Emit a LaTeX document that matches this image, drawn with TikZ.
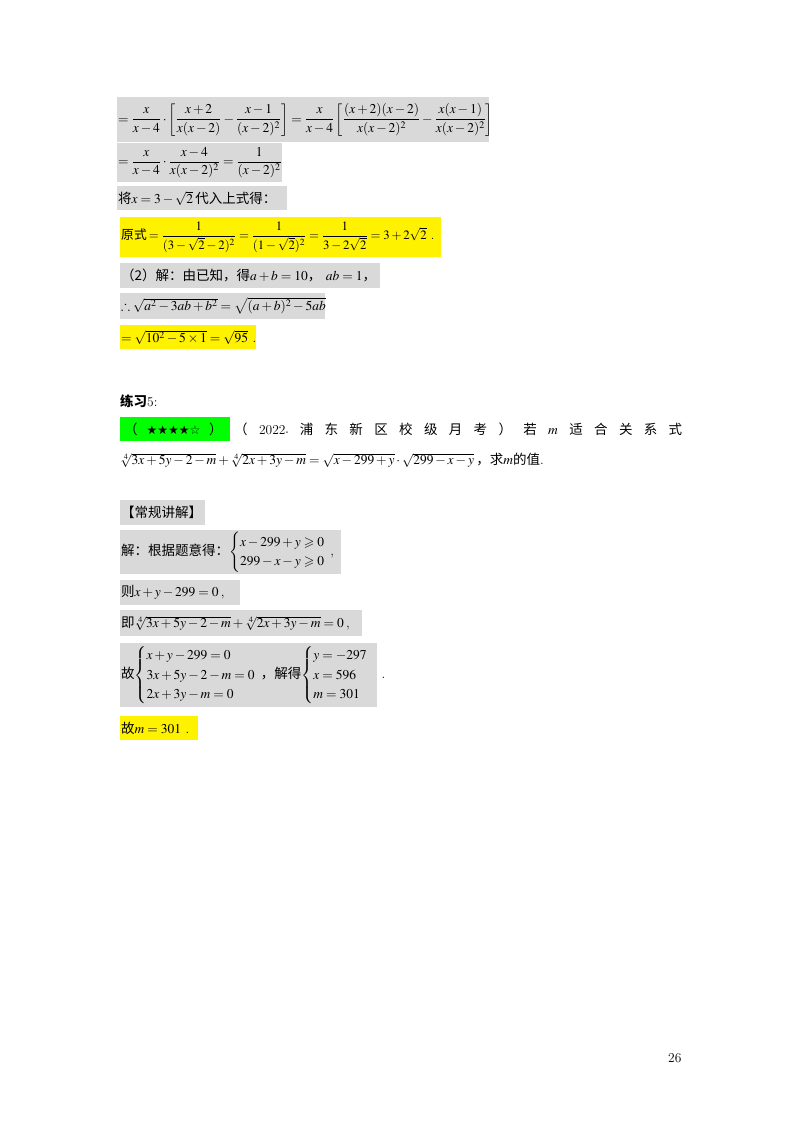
\documentclass[tikz,border=0pt]{standalone}
\usepackage{amsmath,amssymb}
\usepackage{fontspec}
\setmainfont{Liberation Serif}
\newfontfamily\cjk{Noto Sans CJK SC}
\newfontfamily\sym{DejaVu Sans}
\usepackage{mathptmx}
\begin{document}
\begin{tikzpicture}[x=1pt,y=-1pt,
  gbox/.style={fill=gray!30,draw=none,anchor=north west,inner sep=0pt},
  ybox/.style={fill=yellow,draw=none,anchor=north west,inner sep=0pt},
  grbox/.style={fill=green,draw=none,anchor=north west,inner sep=0pt},
  txt/.style={anchor=west,inner sep=0pt,font=\fontsize{13.5}{15}\selectfont}]
\useasboundingbox (0,0) rectangle (800,1132);
% boxes
\node[gbox,minimum width=372,minimum height=45] (b1) at (117,97) {};
\node[gbox,minimum width=165,minimum height=39] (b2) at (117,143) {};
\node[gbox,minimum width=170,minimum height=24] (b3) at (117,186) {};
\node[ybox,minimum width=321,minimum height=40] (b4) at (120,217) {};
\node[gbox,minimum width=260,minimum height=25] (b5) at (120,263) {};
\node[gbox,minimum width=205,minimum height=26] (b6) at (120,293) {};
\node[ybox,minimum width=136,minimum height=24] (b7) at (120,325) {};
\node[grbox,minimum width=110,minimum height=24] (g1) at (120,417) {};
\node[gbox,minimum width=85,minimum height=25] (c1) at (120,500) {};
\node[gbox,minimum width=221,minimum height=44] (c2) at (120,530) {};
\node[gbox,minimum width=120,minimum height=25] (c3) at (120,580) {};
\node[gbox,minimum width=242,minimum height=26] (c4) at (120,610) {};
\node[gbox,minimum width=257,minimum height=64] (c5) at (120,643) {};
\node[ybox,minimum width=78,minimum height=24] (c6) at (120,716) {};
% texts
\node[txt,font=\fontsize{13.5}{14}\selectfont] (t1) at ([xshift=1]b1.west) {$=\dfrac{x}{x-4}\cdot\left[\dfrac{x+2}{x(x-2)}-\dfrac{x-1}{(x-2)^2}\right]=\dfrac{x}{x-4}\left[\dfrac{(x+2)(x-2)}{x(x-2)^2}-\dfrac{x(x-1)}{x(x-2)^2}\right]$};
\node[txt,font=\fontsize{13.5}{14}\selectfont] (t2) at ([xshift=1]b2.west) {$=\dfrac{x}{x-4}\cdot\dfrac{x-4}{x(x-2)^2}=\dfrac{1}{(x-2)^2}$};
\node[txt] (t3) at ([xshift=1]b3.west) {{\cjk 将}$x=3-\sqrt{2}$\,{\cjk 代入上式得：}};
\node[txt,font=\fontsize{12.8}{14}\selectfont] (t4) at ([xshift=1]b4.west) {{\cjk 原式}\,$=\dfrac{1}{(3-\sqrt{2}-2)^2}=\dfrac{1}{(1-\sqrt{2})^2}=\dfrac{1}{3-2\sqrt{2}}=3+2\sqrt{2}$\ .};
\node[txt] (t5) at ([xshift=1]b5.west) {{\cjk （2）解：由已知，得}$a+b=10${\cjk ，}\ $ab=1${\cjk ，}};
\node[txt] (t6) at ([xshift=1]b6.west) {$\therefore\sqrt{a^2-3ab+b^2}=\sqrt{(a+b)^2-5ab}$};
\node[txt] (t7) at ([xshift=1]b7.west) {$=\sqrt{10^2-5\times1}=\sqrt{95}$\ .};
\node[txt] (h) at (120,401) {{\cjk\bfseries 练习}\textbf{5:}};
\node[txt] (gt) at ([xshift=4]g1.west) {{\cjk （}\ \ {\sym\fontsize{12}{12}\selectfont ★★★★☆}\ \ {\cjk ）}};
\node[txt,text width=448] (q1) at (234,429) {{\cjk （}\hfill 2022{\sym\tiny •}\hfill{\cjk 浦\hfill 东\hfill 新\hfill 区\hfill 校\hfill 级\hfill 月\hfill 考\hfill ）\hfill 若}\hfill$m$\hfill{\cjk 适\hfill 合\hfill 关\hfill 系\hfill 式}};
\node[txt] (q2) at (120,460) {$\sqrt[4]{3x+5y-2-m}+\sqrt[4]{2x+3y-m}=\sqrt{x-299+y}\cdot\sqrt{299-x-y}$\,{\cjk ，求}$m${\cjk 的值}.};
\node[txt] (s1) at ([xshift=1]c1.west) {\cjk 【常规讲解】};
\node[txt] (s2) at ([xshift=1]c2.west) {{\cjk 解：根据题意得：}$\renewcommand{\arraystretch}{1.3}\left\{\begin{array}{@{}l}x-299+y\geqslant0\\299-x-y\geqslant0\end{array}\right.$,};
\node[txt] (s3) at ([xshift=1]c3.west) {{\cjk 则}$x+y-299=0$\,,};
\node[txt] (s4) at ([xshift=1]c4.west) {{\cjk 即}$\sqrt[4]{3x+5y-2-m}+\sqrt[4]{2x+3y-m}=0$\,,};
\node[txt] (s5) at ([xshift=1]c5.west) {\renewcommand{\arraystretch}{1.3}{\cjk 故}$\left\{\begin{array}{@{}l}x+y-299=0\\3x+5y-2-m=0\\2x+3y-m=0\end{array}\right.${\cjk ，解得}$\left\{\begin{array}{@{}l}y=-297\\x=596\\m=301\end{array}\right.$\ \ .};
\node[txt] (s6) at ([xshift=1]c6.west) {{\cjk 故}$m=301$\ .};
\node[txt] (pg) at (668,1058) {26};
\end{tikzpicture}
\end{document}
